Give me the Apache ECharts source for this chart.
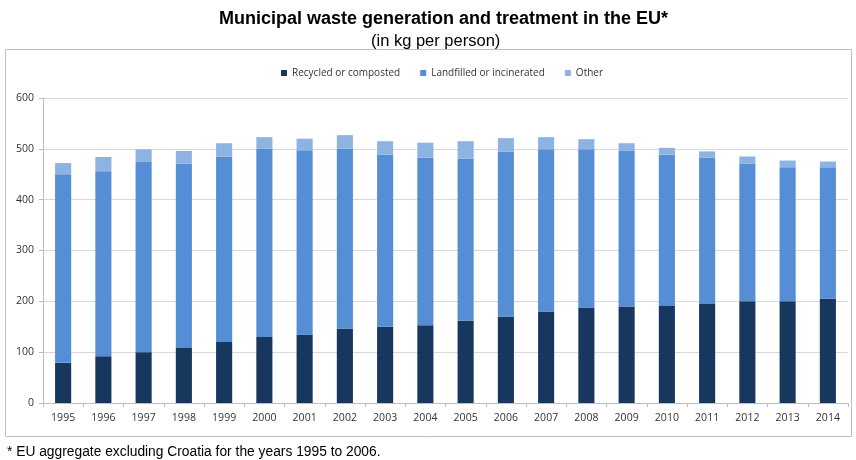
<!DOCTYPE html>
<html>
<head>
<meta charset="utf-8">
<script src="https://cdn.jsdelivr.net/npm/echarts@6/dist/echarts.min.js"></script>
<style>
html,body{margin:0;padding:0;background:#fff;}
#chart{width:856px;height:460px;}
</style>
</head>
<body>
<div id="chart"></div>
<script>
const years = ['1995','1996','1997','1998','1999','2000','2001','2002','2003','2004','2005','2006','2007','2008','2009','2010','2011','2012','2013','2014'];
const recycled = [79,92,100,108,120,130,135,146,150,153,162,170,180,188,190,191,195,200,200,205];
const landfilled = [371,364,374,363,365,370,362,354,339,330,319,324,319,311,306,298,288,271,264,259];
const other = [22,28,25,25,26,23,23,27,26,29,34,27,24,20,15,13,12,14,13,11];
const seriesNames = ['Recycled or composted','Landfilled or incinerated','Other'];
const yTicks = [0,100,200,300,400,500,600];

const chart = echarts.init(document.getElementById('chart'), null, {renderer:'canvas'});
const colors = ['#17375e','#558ed5','#8db3e2'];
const uiFont = 'Open Sans';
const mk = (name, data, color) => ({
  name, type:'bar', stack:'total', data, barWidth:'40%',
  itemStyle:{color}, emphasis:{disabled:true}
});
chart.setOption({
  animation:false,
  title:[
    {text:'Municipal waste generation and treatment in the EU*', left:214, top:5,
     textStyle:{fontFamily:'Liberation Sans', fontSize:18, fontWeight:'bold', color:'#000'}},
    {text:'(in kg per person)', left:366, top:28,
     textStyle:{fontFamily:'Liberation Sans', fontSize:16.5, fontWeight:'normal', color:'#000'}},
    {text:'* EU aggregate excluding Croatia for the years 1995 to 2006.', left:2, top:440,
     textStyle:{fontFamily:'Liberation Sans', fontSize:13.8, fontWeight:'normal', color:'#000'}}
  ],
  graphic:[{type:'rect', shape:{x:5.5,y:49.5,width:846,height:387}, style:{fill:'none', stroke:'#bfbfbf', lineWidth:1}, z:-10}],
  legend:{
    top:63, left:276, itemWidth:6, itemHeight:6, itemGap:20, icon:'rect',
    textStyle:{fontFamily:uiFont, fontSize:10, color:'#333'},
    data:seriesNames
  },
  grid:{left:43, right:8, top:98, bottom:57},
  xAxis:{
    type:'category', data:years,
    axisLine:{lineStyle:{color:'#bfbfbf'}},
    axisTick:{show:true, length:4, lineStyle:{color:'#bfbfbf'}},
    axisLabel:{fontFamily:uiFont, fontSize:10.5, color:'#333', margin:10}
  },
  yAxis:{
    type:'value', min:0, max:600, interval:100,
    axisLine:{show:true, lineStyle:{color:'#bfbfbf'}},
    axisTick:{show:true, length:4, lineStyle:{color:'#bfbfbf'}},
    splitLine:{lineStyle:{color:'#d9d9d9'}},
    axisLabel:{fontFamily:uiFont, fontSize:10.5, color:'#333', margin:9,
      formatter:v => yTicks.includes(v) ? String(v) : ''}
  },
  series:[
    mk(seriesNames[0], recycled, colors[0]),
    mk(seriesNames[1], landfilled, colors[1]),
    mk(seriesNames[2], other, colors[2])
  ]
});
</script>
</body>
</html>
